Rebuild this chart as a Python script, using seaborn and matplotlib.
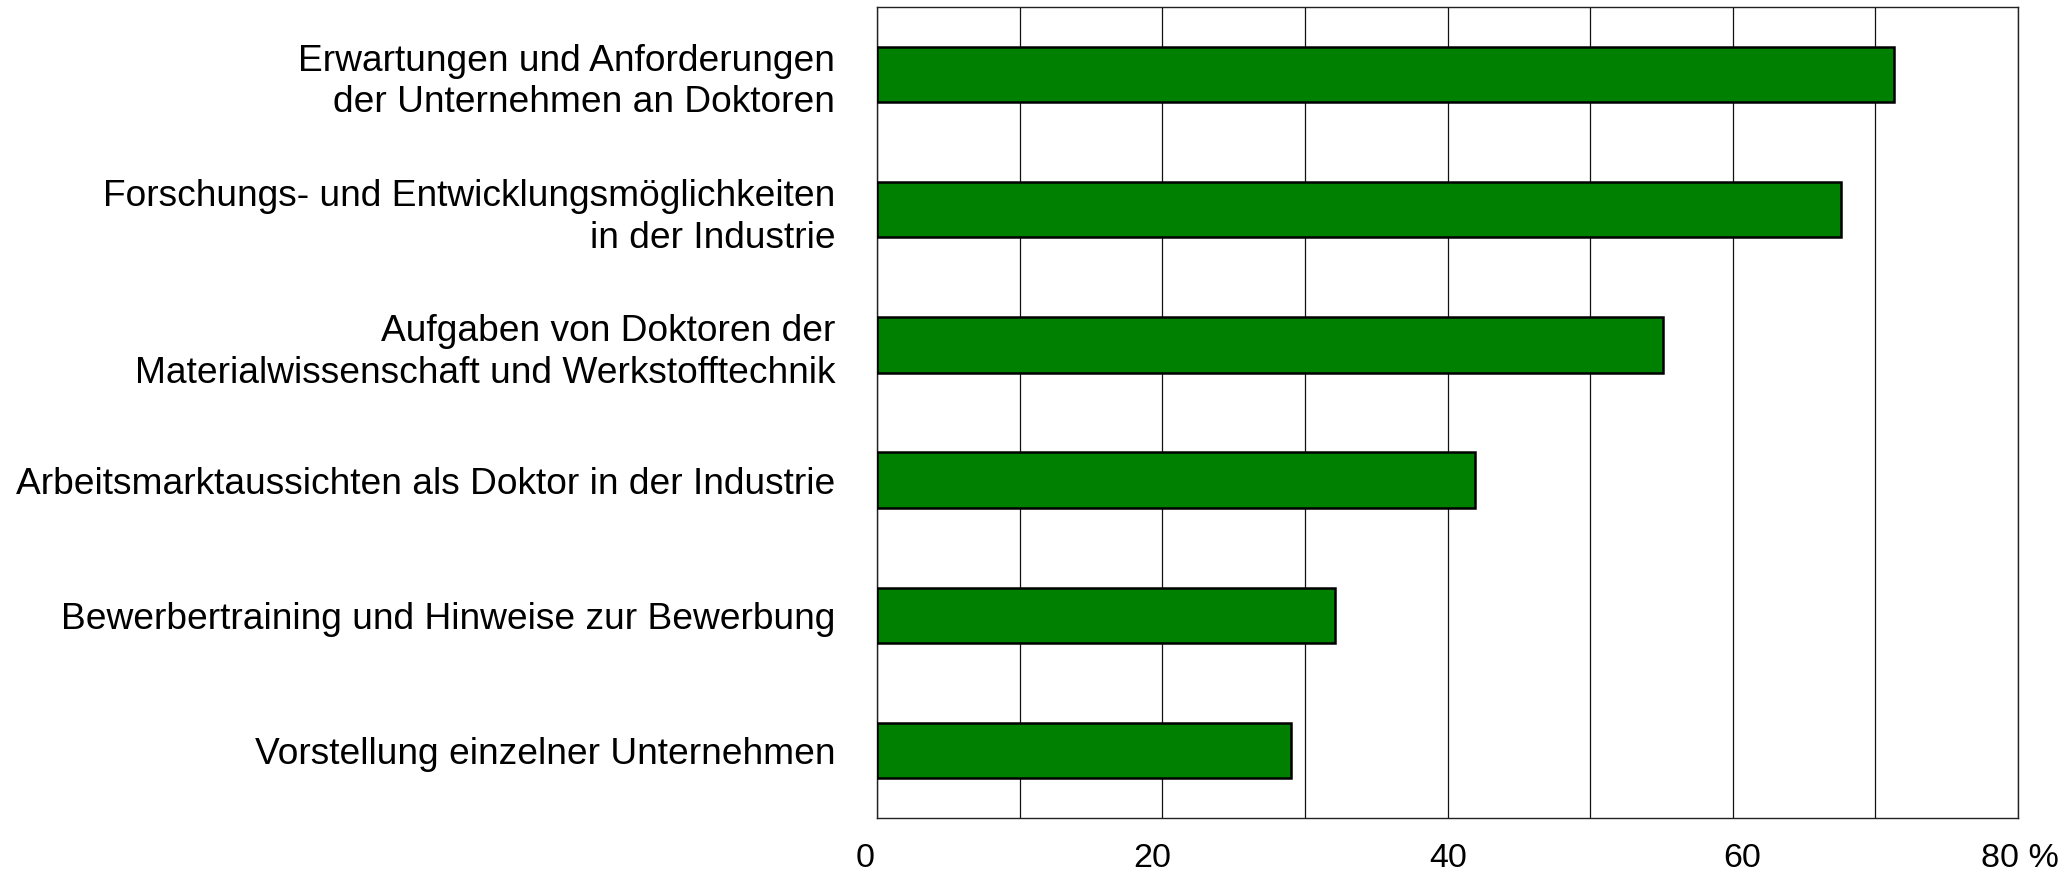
import matplotlib
matplotlib.use("Agg")
import matplotlib.pyplot as plt
import seaborn as sns
import pandas as pd
import matplotlib.transforms as mtransforms

categories = [
    "Erwartungen und Anforderungen\nder Unternehmen an Doktoren",
    "Forschungs- und Entwicklungsmöglichkeiten\nin der Industrie",
    "Aufgaben von Doktoren der\nMaterialwissenschaft und Werkstofftechnik",
    "Arbeitsmarktaussichten als Doktor in der Industrie",
    "Bewerbertraining und Hinweise zur Bewerbung",
    "Vorstellung einzelner Unternehmen",
]
values = [71.3, 67.6, 55.1, 41.9, 32.1, 29.0]
xticks = [0, 20, 40, 60, 80]
xticklabels = ["0", "20", "40", "60", "80 %"]

sns.set_theme(style="white")
plt.rcParams['font.family'] = ['Liberation Sans', 'DejaVu Sans']
plt.rcParams['text.color'] = 'black'
plt.rcParams['xtick.color'] = 'black'
plt.rcParams['ytick.color'] = 'black'

df = pd.DataFrame({"cat": categories, "val": values})

fig = plt.figure(figsize=(20.62, 8.72), dpi=100)
ax = fig.add_axes([877/2062, 1 - 818/872, (2018-877)/2062, (818-7)/872])

sns.barplot(data=df, x="val", y="cat", orient="h", color="#008000",
            saturation=1, width=0.41, edgecolor="black", linewidth=1.8, ax=ax, zorder=3)

ax.set_xlim(0, 80)
ax.set_ylim(5.5, -0.5)
ax.set_xticks(xticks)
ax.set_xticklabels(xticklabels)
ax.set_xticks(range(0, 81, 10), minor=True)
ax.grid(True, axis="x", which="both", color="#111111", linewidth=0.9, zorder=0)
ax.grid(False, axis="y")
ax.set_axisbelow(True)
ax.set_xlabel("")
ax.set_ylabel("")
ax.tick_params(axis="both", which="both", length=0, labelcolor="black")
ax.tick_params(axis="y", pad=30, labelsize=26.7)
ax.tick_params(axis="x", pad=18, labelsize=24.5)
for lbl in ax.get_yticklabels():
    lbl.set_horizontalalignment("right")
    lbl.set_multialignment("right")
    lbl.set_linespacing(1.25)
label_dx = [-12, -10, 1, 9, 2]
for lbl, dx in zip(ax.get_xticklabels(), label_dx):
    offset = mtransforms.ScaledTranslation(dx/100, 0, fig.dpi_scale_trans)
    lbl.set_transform(lbl.get_transform() + offset)
for s in ax.spines.values():
    s.set_visible(True)
    s.set_color("#222222")
    s.set_linewidth(1.0)

fig.savefig("out.png", dpi=100, facecolor="white")
